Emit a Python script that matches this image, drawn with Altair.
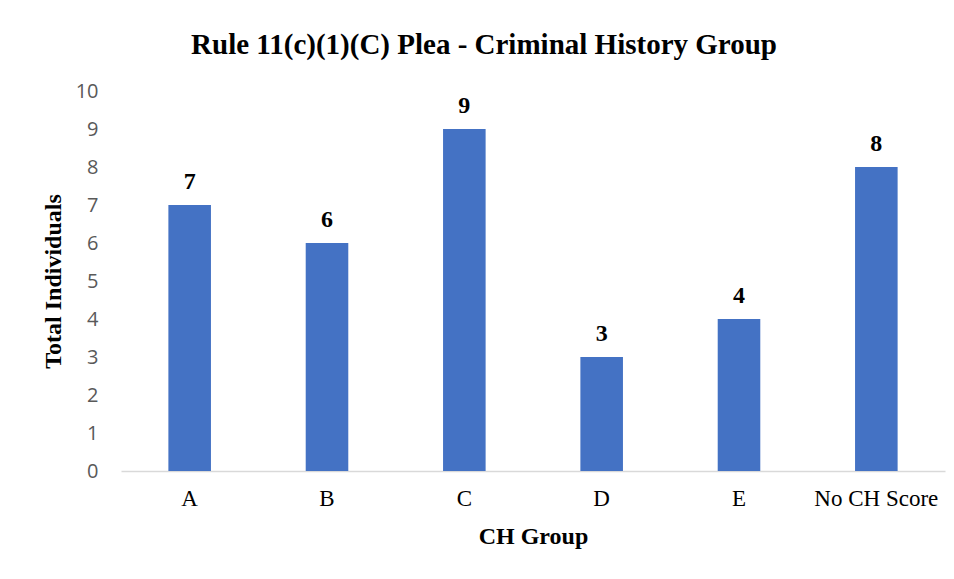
import altair as alt
import pandas as pd

categories = ["A", "B", "C", "D", "E", "No CH Score"]
values = [7, 6, 9, 3, 4, 8]
y_ticks = [0, 1, 2, 3, 4, 5, 6, 7, 8, 9, 10]

df = pd.DataFrame({"group": categories, "count": values})

serif = "Liberation Serif"
sans = "Open Sans"

base = alt.Chart(df).encode(
    x=alt.X(
        "group:N",
        sort=categories,
        scale=alt.Scale(paddingInner=0.69, paddingOuter=0.345),
        axis=alt.Axis(
            title="CH Group",
            titleFont=serif,
            titleFontSize=24,
            titleFontWeight="bold",
            titleColor="black",
            titlePadding=14,
            labelFont=serif,
            labelFontSize=23,
            labelColor="black",
            labelAngle=0,
            labelPadding=16,
            ticks=False,
            domainColor="#d9d9d9",
            domainWidth=1.5,
        ),
    ),
    y=alt.Y(
        "count:Q",
        scale=alt.Scale(domain=[0, 10]),
        axis=alt.Axis(
            values=y_ticks,
            title="Total Individuals",
            titleFont=serif,
            titleFontSize=24,
            titleFontWeight="bold",
            titleColor="black",
            titlePadding=10,
            labelFont=sans,
            labelFontSize=20,
            labelColor="#595959",
            labelPadding=23,
            ticks=False,
            domain=False,
            grid=False,
        ),
    ),
)

bars = base.mark_bar(color="#4472C4")
text = base.mark_text(
    baseline="alphabetic", dy=-16, font=serif, fontSize=24, fontWeight="bold", color="black"
).encode(text="count:Q")

chart = (
    alt.layer(bars, text)
    .properties(
        width=824,
        height=380,
        title=alt.TitleParams(
            "Rule 11(c)(1)(C) Plea - Criminal History Group",
            font=serif,
            fontSize=29,
            fontWeight="bold",
            color="black",
            anchor="middle",
            dx=-49,
            offset=21,
        ),
        autosize=alt.AutoSizeParams(type="none"),
        padding={"left": 113, "top": 83, "right": 1, "bottom": 95},
    )
    .configure(background="white")
    .configure_view(stroke="transparent", strokeWidth=0)
)

chart.save("out.html", embed_options={"renderer": "svg", "actions": False})
